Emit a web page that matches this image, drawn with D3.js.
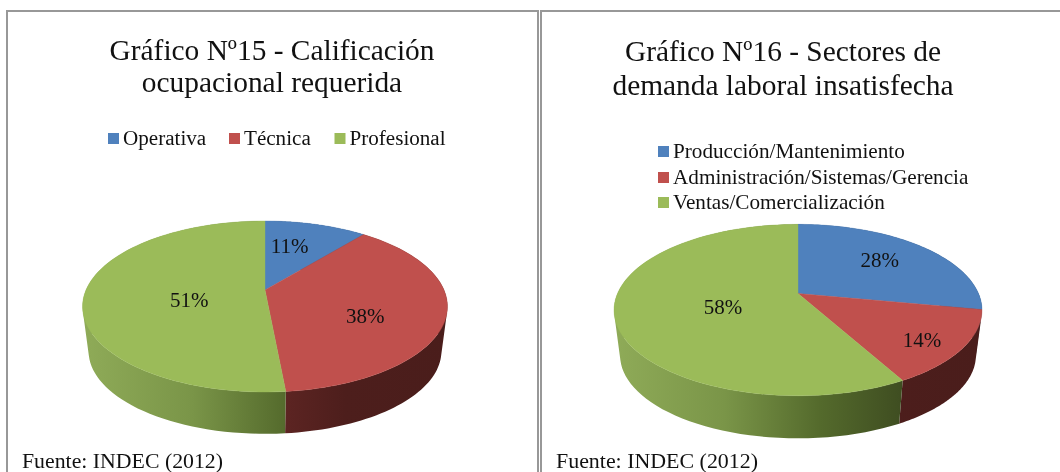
<!DOCTYPE html>
<html><head><meta charset="utf-8">
<script src="https://cdn.jsdelivr.net/npm/d3@7/dist/d3.min.js"></script>
<style>html,body{margin:0;padding:0;background:#fff}svg{display:block;filter:blur(0.35px)}text{font-family:"Liberation Serif",serif;fill:#111}</style>
</head><body><svg id="c" width="1060" height="472"></svg>
<script>
const titleA = ["Gráfico Nº15 - Calificación","ocupacional requerida"];
const categoriesA = ["Operativa","Técnica","Profesional"];
const valuesA = [10.9,37.6,51.49];
const titleB = ["Gráfico Nº16 - Sectores de","demanda laboral insatisfecha"];
const categoriesB = ["Producción/Mantenimiento","Administración/Sistemas/Gerencia","Ventas/Comercialización"];
const valuesB = [28,14,58];
const source = "Fuente: INDEC (2012)";
const colors = ["#4f81bd","#c0504d","#9bbb59"];

const svg = d3.select("#c"), defs = svg.append("defs");
const frame = (x0,x1)=>svg.append("path").attr("d",`M${x0},474V11H${x1}${x1<1060?"V474":""}`).attr("fill","none").attr("stroke","#989898").attr("stroke-width",2);
frame(7,538); frame(541,1063);

function draw(o){
  const g = svg.append("g");
  const K=.193, S=.967;
  const top = a=>{const X=Math.sin(a),Y=-Math.cos(a),d=1-K*Y;return [o.cx+o.rx*X/d,o.cy+o.ry*Y/d];};
  const bot = a=>{const p=top(a);return [o.cx+S*(p[0]-o.cx),o.cy+S*(p[1]-o.cy)+o.depth];};
  const inner = (a,r)=>{const X=r*Math.sin(a),Y=-r*Math.cos(a),d=1-K*Y;return [o.cx+o.rx*X/d,o.cy+o.ry*Y/d];};
  const line = d3.line();
  const arcs = d3.pie().sort(null)(o.values);
  const sample = (a,b)=>d3.range(0,81).map(i=>a+(b-a)*i/80);
  const grad=(id,stops)=>{const l=defs.append("linearGradient").attr("id",id).attr("gradientUnits","userSpaceOnUse")
    .attr("x1",o.cx-o.rx*1.02).attr("x2",o.cx+o.rx*1.02).attr("y1",0).attr("y2",0);
    stops.forEach(s=>l.append("stop").attr("offset",s[0]).attr("stop-color",s[1]));return `url(#${id})`;};
  const wall=[grad(o.id+"b",[[0,"#7f9cc4"],[.6,"#2c4a70"],[1,"#24405f"]]),
    grad(o.id+"r",[[0,"#9a4240"],[.56,"#5c2422"],[.72,"#4d1e1c"],[1,"#4a1d1b"]]),
    grad(o.id+"g",[[0,"#8fab58"],[.3,"#7a9548"],[.56,"#546a2c"],[.8,"#3d4b20"],[1,"#35421c"]])];
  arcs.forEach((d,i)=>{
    const ang=sample(d.startAngle,d.endAngle);
    const strip=d3.pairs(ang).map(([a,b])=>{
      const q=[top(a),top(b),bot(b),bot(a)];
      const area=d3.polygonArea(q);
      return line(area<0?q.reverse():q)+"Z";
    }).join("");
    g.append("path").attr("d",strip).attr("fill",wall[i]).attr("fill-rule","nonzero");
  });
  arcs.forEach((d,i)=>{
    const ang=sample(d.startAngle,d.endAngle);
    g.append("path").attr("d",line([[o.cx,o.cy],...ang.map(top)])+"Z").attr("fill",colors[i]).attr("stroke",colors[i]).attr("stroke-width",.4);
  });
  arcs.forEach((d,i)=>{
    const p=inner((d.startAngle+d.endAngle)/2,.6);
    g.append("text").attr("x",p[0]+o.nudge[i][0]).attr("y",p[1]+o.nudge[i][1]).attr("dy",".35em").attr("text-anchor","middle")
      .attr("font-size",21).text(Math.round(d.data)+"%");
  });
  o.title.forEach((t,i)=>svg.append("text").attr("x",o.tx).attr("y",o.ty[i]).attr("text-anchor","middle").attr("font-size",o.tsize).text(t));
  o.categories.forEach((c,i)=>{
    svg.append("rect").attr("x",o.lx[i]).attr("y",o.ly[i]-12).attr("width",11).attr("height",11).attr("fill",colors[i]);
    svg.append("text").attr("x",o.lx[i]+15).attr("y",o.ly[i]).attr("font-size",o.lsize).text(c);
  });
  svg.append("text").attr("x",o.sx).attr("y",467.5).attr("font-size",20).attr("textLength",o.sw).attr("lengthAdjust","spacingAndGlyphs").text(source);
}
draw({id:"a",title:titleA,categories:categoriesA,values:valuesA,cx:265,cy:290,rx:179,ry:82.3,depth:45.2,
  nudge:[[-8,-2],[-6,11],[32,7]],tx:272,ty:[60,92],tsize:29.4,lx:[108,229,334.5],ly:[145,145,145],lsize:21.1,sx:22,sw:201});
draw({id:"b",title:titleB,categories:categoriesB,values:valuesB,cx:798,cy:293.5,rx:180.5,ry:82.5,depth:46,
  nudge:[[4,-4],[30,15],[33,0]],tx:783,ty:[61,95],tsize:29.4,lx:[658,658,658],ly:[158,184,209],lsize:21.2,sx:556,sw:202});
</script></body></html>
